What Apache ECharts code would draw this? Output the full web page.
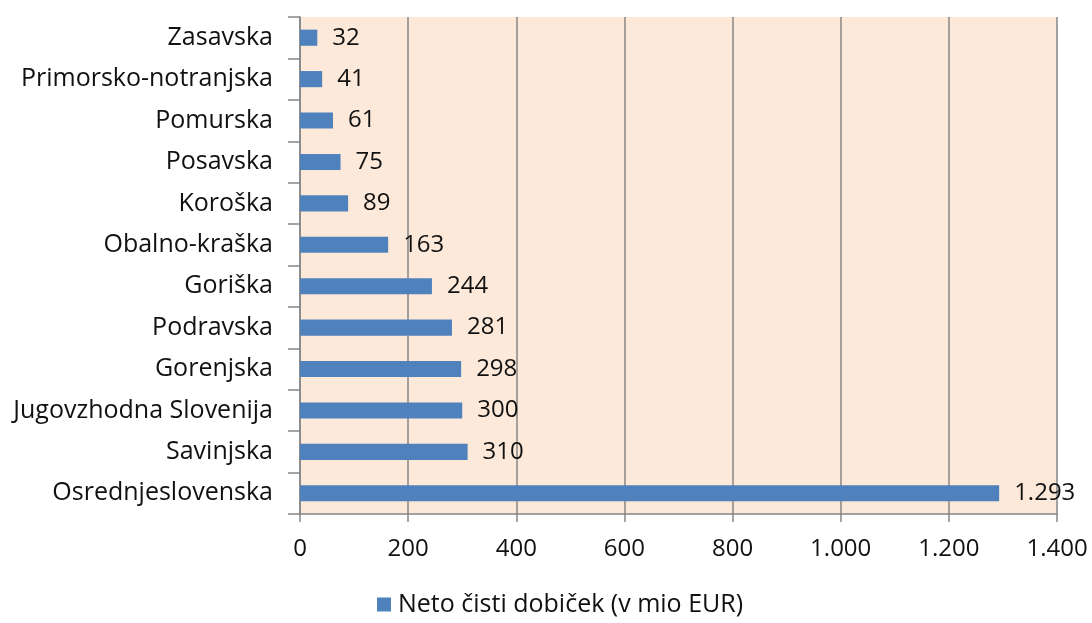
<!DOCTYPE html>
<html>
<head>
<meta charset="utf-8">
<script src="https://cdn.jsdelivr.net/npm/echarts@6/dist/echarts.min.js"></script>
<style>
  html, body { margin: 0; padding: 0; background: #fff; }
  #chart { width: 1092px; height: 623px; }
</style>
</head>
<body>
<div id="chart"></div>
<script>
// regions, top to bottom
const regions = ['Zasavska', 'Primorsko-notranjska', 'Pomurska', 'Posavska', 'Koroška', 'Obalno-kraška',
  'Goriška', 'Podravska', 'Gorenjska', 'Jugovzhodna Slovenija', 'Savinjska', 'Osrednjeslovenska'];
const profit = [32, 41, 61, 75, 89, 163, 244, 281, 298, 300, 310, 1293];
const seriesName = 'Neto čisti dobiček (v mio EUR)';

const fontFam = '"Open Sans", "Noto Sans", sans-serif';

// 1293 -> 1.293
function fmt(v) {
  return String(v).replace(/\B(?=(\d{3})+(?!\d))/g, '.');
}

let myChart = echarts.init(document.getElementById('chart'));
myChart.setOption({
  animation: false,
  textStyle: { fontFamily: fontFam },
  grid: { left: 300, right: 35, top: 17, bottom: 109, containLabel: false,
    show: true, backgroundColor: '#FDE9D9', borderWidth: 0 },
  legend: {
    bottom: 1, left: 372,
    itemWidth: 14, itemHeight: 14, itemGap: 6,
    icon: 'rect',
    textStyle: { fontSize: 25, color: '#111', fontFamily: fontFam, padding: [0, 0, 0, 2] },
    data: [seriesName]
  },
  xAxis: {
    type: 'value', min: 0, max: 1400, interval: 200,
    axisLine: { show: true, lineStyle: { color: '#868686', width: 1.5 } },
    axisTick: { show: true, length: 8, lineStyle: { color: '#868686', width: 1.5 } },
    splitLine: { show: true, lineStyle: { color: '#868686', width: 1.5 } },
    axisLabel: { fontSize: 24, color: '#111', margin: 23, formatter: fmt }
  },
  yAxis: {
    type: 'category', inverse: true, data: regions,
    axisLine: { show: true, lineStyle: { color: '#868686', width: 1.5 } },
    axisTick: { show: true, length: 12, lineStyle: { color: '#868686', width: 1.5 } },
    axisLabel: { fontSize: 25, color: '#111', margin: 27, padding: [3, 0, 0, 0] }
  },
  series: [{
    name: seriesName, type: 'bar', data: profit, barWidth: '39%',
    itemStyle: { color: '#4F81BD' },
    label: { show: true, position: 'right', distance: 15, fontSize: 24, color: '#111',
      padding: [4, 0, 0, 0], formatter: p => fmt(p.value) }
  }]
});
</script>
</body>
</html>
